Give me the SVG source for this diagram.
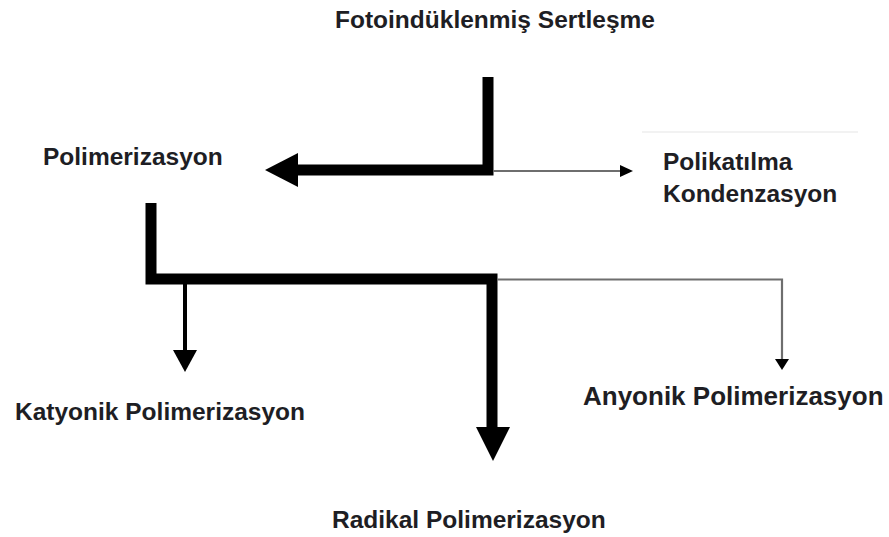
<svg xmlns="http://www.w3.org/2000/svg" width="889" height="537" viewBox="0 0 889 537">
<style>
.t{font-family:"Liberation Sans",Arial,sans-serif;font-weight:bold;font-size:24.5px;fill:#1e1e24}
.thick{stroke:#000;stroke-width:11;fill:none;stroke-linejoin:miter;stroke-linecap:butt}
.thin{stroke:#6e6e6e;stroke-width:2.2;fill:none}
.head{fill:#000}
</style>
<rect width="889" height="537" fill="#fff"/>
<line x1="642" y1="132" x2="858" y2="132" stroke="#f2f2f2" stroke-width="2"/>
<g id="connectors">
  <path class="thick" d="M488 77 V170 H296"/>
  <polygon class="head" points="265,170 298,153 298,187"/>
  <path class="thin" d="M493 171 H621"/>
  <polygon class="head" points="633,171 620,165 620,177"/>
  <path class="thick" d="M151 203 V279 H492 V428"/>
  <polygon class="head" points="493,461 476,427 510,427"/>
  <line x1="185" y1="284" x2="185" y2="352" stroke="#000" stroke-width="4"/>
  <polygon class="head" points="185,372 173,350 197,350"/>
  <path class="thin" d="M497 279.5 H782 V360"/>
  <polygon class="head" points="782,370 775,359 789,359"/>
</g>
<g id="n-fotoinduklenmis"><text class="t" x="335" y="28" font-size="25">Fotoindüklenmiş Sertleşme</text></g>
<g id="n-polimerizasyon"><text class="t" x="43" y="165" font-size="25">Polimerizasyon</text></g>
<g id="n-polikatilma"><text class="t" x="663" y="170">Polikatılma</text><text class="t" x="663" y="202">Kondenzasyon</text></g>
<g id="n-katyonik"><text class="t" x="15" y="420">Katyonik Polimerizasyon</text></g>
<g id="n-anyonik"><text class="t" x="583" y="405" style="font-size:26px">Anyonik Polimerizasyon</text></g>
<g id="n-radikal"><text class="t" x="332" y="528">Radikal Polimerizasyon</text></g>
</svg>
